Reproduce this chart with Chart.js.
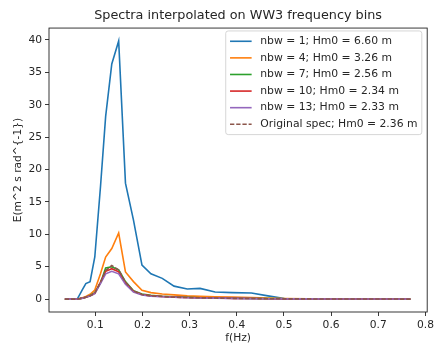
<!DOCTYPE html>
<html>
<head>
<meta charset="utf-8">
<script src="https://cdn.jsdelivr.net/npm/chart.js@4.4.0/dist/chart.umd.min.js"></script>
<style>
  html, body { margin: 0; padding: 0; background: #fff; }
  canvas { display: block; }
</style>
</head>
<body>
<canvas id="chart" width="437" height="350"></canvas>
<script>
// frequency bins (Hz)
const freq = [0.0355, 0.039, 0.043, 0.047, 0.052, 0.057, 0.062, 0.067, 0.073, 0.080,
              0.089, 0.099, 0.111, 0.122, 0.135, 0.1496, 0.164, 0.181, 0.199, 0.218,
              0.242, 0.267, 0.295, 0.322, 0.354, 0.39, 0.431, 0.466, 0.501, 0.55,
              0.605, 0.665, 0.72, 0.768];

// energy density E(m^2 s rad^-1) for each spectrum
const nbw1  = [0, 0, 0, 0, 0, 0, 0.05, 0.7, 1.5, 2.4,
               2.7, 6.5, 17.3, 28.2, 36.3, 39.85, 17.9, 12.2, 5.25, 3.9,
               3.2, 2.0, 1.55, 1.65, 1.1, 1.0, 0.95, 0.5, 0.1, 0.02,
               0.01, 0, 0, 0];
const nbw4  = [0, 0, 0, 0, 0, 0, 0.05, 0.1, 0.2, 0.4,
               0.75, 1.4, 3.9, 6.5, 7.8, 10.2, 4.2, 2.7, 1.35, 1.0,
               0.8, 0.65, 0.5, 0.42, 0.35, 0.3, 0.25, 0.18, 0.1, 0.05,
               0.03, 0.02, 0.01, 0.01];
const nbw7  = [0, 0, 0, 0, 0, 0, 0.03, 0.08, 0.15, 0.3,
               0.55, 1.0, 2.5, 4.8, 5.0, 4.5, 2.7, 1.3, 0.8, 0.6,
               0.45, 0.35, 0.28, 0.22, 0.18, 0.14, 0.1, 0.07, 0.05, 0.03,
               0.02, 0.01, 0.01, 0];
const nbw10 = [0, 0, 0, 0, 0, 0, 0.03, 0.08, 0.15, 0.3,
               0.5, 0.9, 2.6, 4.3, 4.7, 4.2, 2.5, 1.2, 0.7, 0.5,
               0.4, 0.3, 0.24, 0.2, 0.16, 0.12, 0.09, 0.06, 0.04, 0.03,
               0.02, 0.01, 0.01, 0];
const nbw13 = [0, 0, 0, 0, 0, 0, 0.03, 0.07, 0.14, 0.28,
               0.48, 0.85, 2.4, 3.9, 4.3, 3.9, 2.3, 1.1, 0.65, 0.45,
               0.36, 0.28, 0.22, 0.18, 0.15, 0.11, 0.08, 0.06, 0.04, 0.03,
               0.02, 0.01, 0.01, 0];
const orig  = [0, 0, 0, 0, 0, 0, 0.03, 0.08, 0.15, 0.3,
               0.5, 0.9, 2.6, 4.4, 5.2, 4.5, 2.6, 1.25, 0.7, 0.5,
               0.4, 0.3, 0.24, 0.2, 0.16, 0.12, 0.09, 0.06, 0.04, 0.03,
               0.02, 0.01, 0.01, 0];

const seriesLabels = ['nbw = 1; Hm0 = 6.60 m', 'nbw = 4; Hm0 = 3.26 m', 'nbw = 7; Hm0 = 2.56 m',
                      'nbw = 10; Hm0 = 2.34 m', 'nbw = 13; Hm0 = 2.33 m', 'Original spec; Hm0 = 2.36 m'];
const seriesValues = [nbw1, nbw4, nbw7, nbw10, nbw13, orig];
const colors = ['#1f77b4', '#ff7f0e', '#2ca02c', '#d62728', '#9467bd', '#8c564b'];

const xTicks = [0.1, 0.2, 0.3, 0.4, 0.5, 0.6, 0.7, 0.8];
const yTicks = [0, 5, 10, 15, 20, 25, 30, 35, 40];

const FONT = 'DejaVu Sans';
const TEXT = '#262626';
const SMALL = 10.7;

const datasets = seriesValues.map((vals, i) => ({
  label: seriesLabels[i],
  data: vals.map((v, k) => ({ x: freq[k], y: v })),
  borderColor: colors[i],
  backgroundColor: colors[i],
  borderWidth: 1.6,
  borderDash: i === 5 ? [4.3, 1.9] : [],
  pointRadius: 0,
  tension: 0,
  order: seriesValues.length - i   // later series on top, like matplotlib
}));

// matplotlib-like frame around the axes
const frame = {
  id: 'frame',
  afterDatasetsDraw(chart) {
    const { ctx, chartArea: a } = chart;
    ctx.save();
    ctx.strokeStyle = '#222';
    ctx.lineWidth = 0.9;
    ctx.strokeRect(a.left, a.top, a.right - a.left, a.bottom - a.top);
    ctx.restore();
  }
};

// legend box in the upper right of the axes
const legendBox = {
  id: 'legendBox',
  afterDraw(chart) {
    const { ctx, chartArea: a } = chart;
    const fs = 10.8;
    const sets = chart.data.datasets;
    ctx.save();
    ctx.font = fs + 'px "' + FONT + '"';
    const tw = Math.max(...sets.map(d => ctx.measureText(d.label).width));
    const pad = 0.4 * fs, hl = 2 * fs, htp = 0.8 * fs, rowH = 16.6, textH = 12;
    const w = pad + hl + htp + tw + pad;
    const h = 2 * pad + rowH * (sets.length - 1) + textH;
    const x = a.right - 0.5 * fs - w;
    const y = a.top + 0.5 * fs - 2.5;
    const r = 2.5;
    ctx.beginPath();
    ctx.moveTo(x + r, y);
    ctx.arcTo(x + w, y, x + w, y + h, r);
    ctx.arcTo(x + w, y + h, x, y + h, r);
    ctx.arcTo(x, y + h, x, y, r);
    ctx.arcTo(x, y, x + w, y, r);
    ctx.closePath();
    ctx.fillStyle = 'rgba(255,255,255,0.8)';
    ctx.fill();
    ctx.strokeStyle = '#cccccc';
    ctx.lineWidth = 0.8;
    ctx.stroke();
    ctx.textBaseline = 'middle';
    ctx.textAlign = 'left';
    sets.forEach((d, i) => {
      const cy = y + pad + textH / 2 + i * rowH;
      ctx.beginPath();
      ctx.setLineDash(d.borderDash);
      ctx.strokeStyle = d.borderColor;
      ctx.lineWidth = d.borderWidth;
      ctx.moveTo(x + pad, cy);
      ctx.lineTo(x + pad + hl, cy);
      ctx.stroke();
      ctx.setLineDash([]);
      ctx.fillStyle = TEXT;
      ctx.fillText(d.label, x + pad + hl + htp, cy);
    });
    ctx.restore();
  }
};

new Chart(document.getElementById('chart'), {
  type: 'line',
  data: { datasets },
  options: {
    responsive: false,
    animation: false,
    devicePixelRatio: 1,
    layout: { padding: { left: 0, right: 6.3, top: 0, bottom: 0 } },
    plugins: {
      legend: { display: false },
      tooltip: { enabled: false },
      title: {
        display: true,
        fullSize: false,   // centre over the axes, not the whole canvas
        text: 'Spectra interpolated on WW3 frequency bins',
        color: TEXT,
        font: { family: FONT, size: 12.8, weight: 'normal', lineHeight: 1.2 },
        padding: { top: 7.7, bottom: 5 }
      }
    },
    scales: {
      x: {
        type: 'linear',
        min: 0.0019,
        max: 0.8037,
        afterBuildTicks: axis => { axis.ticks = xTicks.map(v => ({ value: v })); },
        afterFit: axis => { axis.height = 38; },
        border: { display: false },
        grid: { drawOnChartArea: false, drawTicks: true, tickLength: 4, tickColor: '#222', lineWidth: 0.9 },
        ticks: {
          color: TEXT, padding: 3, maxRotation: 0,
          font: { family: FONT, size: SMALL },
          callback: v => v.toFixed(1)
        },
        title: {
          display: true, text: 'f(Hz)', color: TEXT,
          font: { family: FONT, size: SMALL },
          padding: { top: 0, bottom: 5.5 }
        }
      },
      y: {
        type: 'linear',
        min: -1.99,
        max: 41.84,
        afterBuildTicks: axis => { axis.ticks = yTicks.map(v => ({ value: v })); },
        afterFit: axis => { axis.width = 49; },
        border: { display: false },
        grid: { drawOnChartArea: false, drawTicks: true, tickLength: 4, tickColor: '#222', lineWidth: 0.9 },
        ticks: {
          color: TEXT, padding: 3,
          font: { family: FONT, size: SMALL },
          callback: v => String(v)
        },
        title: {
          display: true, text: 'E(m^2 s rad^{-1})', color: TEXT,
          font: { family: FONT, size: SMALL },
          padding: { top: 11.5, bottom: 0 }
        }
      }
    }
  },
  plugins: [frame, legendBox]
});
</script>
</body>
</html>
